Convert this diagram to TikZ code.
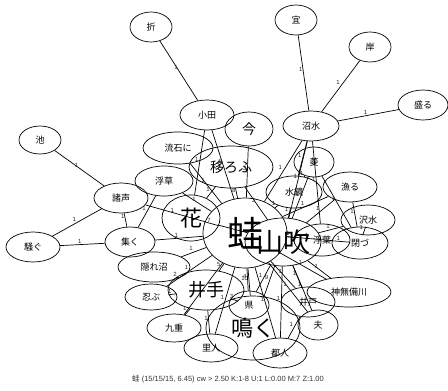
\documentclass[tikz,border=0pt]{standalone}
\usepackage{fontspec}
\setmainfont{Liberation Sans}
\newfontfamily\cjk{Noto Sans CJK JP}
\usetikzlibrary{shapes.geometric}
\begin{document}
\begin{tikzpicture}[x=1pt,y=-1pt,
  ell/.style={draw, ellipse, inner sep=0pt, line width=0.7pt},
  edge/.style={line width=0.7pt},
  lbl/.style={font=\fontsize{6}{7}\selectfont, inner sep=0.8pt, above left, text=black!85}]
\useasboundingbox (0,0) rectangle (448,391);
\foreach \n/\x/\y/\w/\h/\s/\t in {
  oru/151/27/42/30/9/折,
  oda/207/115/54/30/9/小田,
  ima/249/129/48/34/14/今,
  gi/296/20/42/30/9/宜,
  kishi/370/47/42/30/9/岸,
  sakaru/423/105/50/30/9/盛る,
  numamizu/311/126/56/30/9/沼水,
  ike/40/140/42/28/9/池,
  sasuga/178/148/70/32/9/流石に,
  utsurou/231/167/84/42/14/移ろふ,
  ukikusa/164/181/58/30/9/浮草,
  morogoe/121/198/54/30/9/諸声,
  hana/191/218/58/46/22/花,
  sudaku/130/242/50/30/9/集く,
  sawagu/33/247/54/30/9/騒ぐ,
  hishi/314/162/40/30/9/菱,
  isaru/350/187/54/30/9/漁る,
  mizukagami/294/192/56/32/9/水鏡,
  sawamizu/368/220/54/30/9/沢水,
  kaeru/245/233/84/70/36/蛙,
  yamabuki/283/242/76/48/27/山吹,
  ukiba/322/240/56/32/9/浮葉,
  tozu/360/243/56/32/9/閉づ,
  kakurenuma/154/267/72/30/9/隠れ沼,
  shinobu/151/297/52/26/9/忍ぶ,
  ide/206/290/76/40/18/井手,
  kokonoe/174/328/54/28/9/九重,
  satobito/211/348/54/28/9/里人,
  naku/253/328/94/64/22/鳴く,
  agata/249/305/40/28/9/県,
  ido/308/302/54/30/9/井戸,
  kannabi/349/292/84/30/9/神無備川,
  otto/318/325/40/30/9/夫,
  miyakobito/280/353/54/30/9/都人}
{
  \node[ell, minimum width=\w pt, minimum height=\h pt,
        label={[inner sep=0pt]center:{\cjk\fontsize{\s}{\s}\selectfont \t}}] (\n) at (\x,\y) {};
}
\foreach \a/\b/\l in {
  oru/oda/1, gi/numamizu/1, kishi/numamizu/1, sakaru/numamizu/1,
  ike/morogoe/1, sawagu/morogoe/1, sawagu/sudaku/1, morogoe/sudaku/1,
  ukikusa/sudaku/1, morogoe/kaeru/1, ukikusa/kaeru/1, sudaku/kaeru/1,
  kakurenuma/kaeru/1, oda/kaeru/1, oda/hana/1, sasuga/kaeru/1,
  utsurou/hana/1, utsurou/kaeru/8, ima/kaeru/3, utsurou/yamabuki/3,
  numamizu/kaeru/1, numamizu/mizukagami/1, numamizu/yamabuki/1, numamizu/ukiba/1,
  hishi/mizukagami/1, hishi/yamabuki/1, hishi/tozu/1,
  isaru/yamabuki/1, isaru/tozu/1, isaru/kaeru/1,
  sawamizu/tozu/1, sawamizu/yamabuki/1,
  mizukagami/kaeru/1, mizukagami/yamabuki/1,
  ukiba/tozu/1, ukiba/kaeru/1, tozu/kaeru/1,
  kannabi/yamabuki/1, kannabi/kaeru/1,
  ido/yamabuki/1, ido/kaeru/1, ido/miyakobito/1,
  otto/yamabuki/1, otto/kaeru/1,
  miyakobito/kaeru/1, miyakobito/yamabuki/1,
  naku/kaeru/10, naku/yamabuki/9,
  agata/kaeru/4, agata/yamabuki/1,
  ide/agata/3, ide/kaeru/5, ide/shinobu/1, ide/kakurenuma/2,
  ide/kokonoe/1, ide/satobito/1,
  shinobu/kaeru/1, kokonoe/kaeru/1, satobito/kaeru/1,
  hana/kaeru/7, hana/yamabuki/7}
{
  \draw[edge] (\a) -- node[lbl]{\l} (\b);
}
\node[font=\fontsize{7.5}{9}\selectfont, text=black!80] (caption) at (228,379)
  {{\cjk 蛙} (15/15/15, 6.45) cw > 2.50 K:1-8 U:1 L:0.00 M:7 Z:1.00};
\end{tikzpicture}
\end{document}
